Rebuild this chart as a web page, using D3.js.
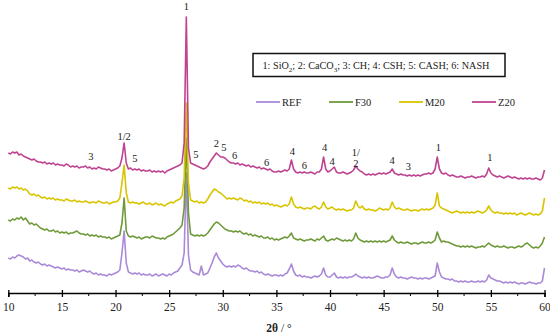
<!DOCTYPE html>
<html>
<head>
<meta charset="utf-8">
<script src="https://cdn.jsdelivr.net/npm/d3@7"></script>
<style>
  body { margin: 0; background: #fff; }
  svg { display: block; }
  text { font-family: "Liberation Serif", "Times New Roman", serif; fill: #222; }
</style>
</head>
<body>
<div id="chart-area"></div>
<script>
// 2theta grid: 10.0 .. 60.0 every 0.2 deg (251 points)
const twoTheta = d3.range(251).map(i => +(10 + i * 0.2).toFixed(1));

// intensities (a.u., already stacked), one row per degree
const refI = [
  35,34,36,35,37, 38,37,36,34,35, 32,33,31,30,31, 29,28,29,27,28, 27,26,25,26,25,
  24,25,23,24,23, 23,22,23,21,22, 23,22,21,22,20, 19,20,18,19,18, 18,17,19,18,19,
  20,21,23,40,62, 30,21,20,19,20, 19,20,18,19,18, 18,19,17,18,19, 17,18,19,18,17,
  19,18,20,21,22, 25,28,40,120,38, 23,21,20,19,18, 27,18,19,20,25, 30,36,40,35,32,
  29,27,26,27,26, 27,26,28,27,25, 24,25,23,22,22, 21,22,20,21,19, 18,19,18,17,18,
  18,17,18,17,19, 20,24,29,22,18, 17,18,16,17,16, 16,15,16,17,16, 17,19,25,18,16,
  16,18,20,16,15, 16,15,16,15,16, 16,17,19,17,16, 15,16,15,16,15, 15,16,17,16,15,
  15,16,16,18,25, 19,16,15,16,15, 15,14,15,16,15, 15,14,15,14,15, 15,14,15,16,17,
  30,21,16,15,14, 14,13,14,12,12, 11,12,11,12,11, 11,12,11,11,12, 11,12,11,13,18,
  15,14,13,12,12, 11,10,11,10,11, 10,11,10,9,10, 10,9,10,11,10, 10,9,10,10,12,
  25
];
const f30I = [
  73,72,74,73,75, 74,76,73,75,72, 69,70,68,69,67, 65,64,63,64,62, 62,63,61,62,60,
  61,60,61,59,60, 60,61,62,60,59, 59,58,59,57,58, 57,58,56,57,56, 56,55,56,54,55,
  56,57,58,70,95, 62,57,56,57,56, 55,56,54,55,56, 56,55,57,56,55, 55,54,55,54,56,
  57,58,59,61,63, 65,68,85,155,80, 59,58,57,58,57, 58,57,58,60,63, 66,69,71,70,68,
  66,64,63,62,62, 61,62,61,62,60, 59,60,58,59,57, 58,57,56,57,55, 55,56,54,55,53,
  54,53,54,55,56, 55,57,60,55,54, 53,54,53,52,53, 53,54,53,52,54, 53,55,57,53,52,
  53,54,53,55,54, 53,52,53,52,53, 52,54,60,55,53, 52,51,52,51,52, 51,52,51,52,51,
  52,51,52,53,57, 53,51,50,51,50, 50,51,50,49,50, 50,49,50,51,50, 50,51,50,51,53,
  61,55,51,52,51, 51,50,49,48,47, 47,46,47,46,47, 46,47,46,45,46, 46,47,46,48,50,
  48,47,46,47,46, 46,47,46,45,46, 46,45,46,47,46, 47,49,50,48,46, 45,46,45,47,50,
  56
];
const m20I = [
  105,104,106,105,106, 104,105,103,104,102, 99,98,99,97,98, 96,95,96,94,95, 94,95,93,94,93,
  93,92,94,93,92, 92,93,91,92,91, 91,92,91,90,91, 91,90,92,91,90, 90,91,89,90,91,
  91,92,95,110,128, 100,91,90,91,90, 90,89,90,91,89, 89,90,88,89,90, 88,89,88,87,89,
  90,91,90,92,93, 94,97,115,190,110, 93,92,91,92,90, 91,90,91,94,98, 101,104,103,101,100,
  98,96,94,95,94, 95,94,93,95,94, 92,93,91,92,90, 91,90,91,89,90, 89,90,88,89,87,
  88,87,86,87,88, 87,89,96,89,86, 85,86,85,84,85, 85,84,86,87,85, 84,86,91,86,84,
  85,86,84,83,84, 83,84,83,82,83, 83,85,92,87,85, 87,84,83,84,83, 83,82,83,85,84,
  83,84,83,85,91, 86,84,85,84,83, 83,84,83,82,83, 83,82,83,84,83, 84,83,84,85,88,
  100,87,85,84,83, 82,81,80,81,82, 81,80,81,80,81, 80,81,80,81,82, 81,80,81,83,87,
  83,81,80,81,80, 80,79,80,79,80, 79,80,78,79,80, 79,78,79,80,79, 78,79,78,79,82,
  95
];
const z20I = [
  140,139,141,140,141, 138,139,137,136,135, 134,133,134,132,131, 131,130,131,129,130, 129,130,128,129,128,
  128,127,129,128,126, 127,126,127,125,126, 126,127,125,126,124, 125,124,126,125,124, 124,123,124,122,123,
  124,125,127,135,150, 130,124,125,123,124, 123,124,122,123,122, 122,123,121,122,121, 122,121,122,120,122,
  123,124,125,126,127, 128,130,150,276,145, 130,129,128,127,126, 125,124,125,127,131, 134,137,140,138,136,
  136,135,133,131,130, 130,129,130,128,129, 128,127,128,126,127, 126,125,126,124,125, 124,123,124,122,121,
  121,122,121,122,123, 122,124,133,124,121, 120,121,120,121,120, 120,121,120,119,121, 121,124,136,124,121,
  122,124,126,121,120, 120,121,120,119,120, 121,123,127,124,122, 121,119,118,119,118, 119,118,119,120,119,
  120,119,120,121,124, 120,119,118,119,118, 118,117,118,117,118, 117,118,117,118,119, 119,120,119,120,124,
  136,124,120,119,120, 118,117,118,117,116, 116,117,116,115,116, 116,117,116,115,116, 116,117,116,119,125,
  120,118,117,116,117, 116,115,116,117,116, 115,116,115,114,115, 114,115,114,115,114, 114,115,114,113,115,
  123
];

const seriesNames = ["REF", "F30", "M20", "Z20"];
const seriesColors = ["#a98ad8", "#6f9a3a", "#d9c400", "#bf4390"];
const seriesData = [refI, f30I, m20I, z20I];

// phase marks: label, 2theta, intensity where the label sits
const peakLabels = [
  ["1", 26.6, 283], ["1/2", 20.8, 153], ["3", 17.7, 133], ["5", 21.8, 131],
  ["5", 27.5, 135], ["2", 29.4, 146], ["5", 30.1, 142], ["6", 31.1, 134],
  ["6", 34.1, 127], ["4", 36.5, 138], ["6", 37.6, 124], ["4", 39.5, 142],
  ["4", 40.2, 128], ["1/", 42.4, 137], ["2", 42.4, 126], ["4", 45.8, 129],
  ["3", 47.3, 123], ["1", 50.1, 142], ["1", 54.9, 132]
];
const xTicks = [10, 15, 20, 25, 30, 35, 40, 45, 50, 55, 60];

const width = 550, height = 333;

const svg = d3.select("#chart-area")
    .append("svg")
    .attr("width", width)
    .attr("height", height);

const x = d3.scaleLinear().domain([10, 60]).range([8.3, 544.5]);
const y = d3.scaleLinear().domain([0, 285]).range([293, 8]);

const line = d3.line()
    .x((d, i) => x(twoTheta[i]))
    .y(d => y(d));

seriesData.forEach((s, k) => {
    svg.append("path")
        .datum(s)
        .attr("fill", "none")
        .attr("stroke", seriesColors[k])
        .attr("stroke-width", 1.6)
        .attr("stroke-linejoin", "round")
        .attr("d", line);
});

// x axis
const axis = svg.append("g")
    .attr("transform", "translate(0,293)")
    .call(d3.axisBottom(x).tickValues(xTicks).tickSize(4).tickPadding(6).tickFormat(d3.format("d")));
axis.select(".domain").attr("stroke", "#000").attr("stroke-width", 1.5);
axis.selectAll(".tick line").attr("stroke", "#000").attr("stroke-width", 1.3).attr("y1", -3).attr("y2", 4);
axis.selectAll(".tick text")
    .style("font-family", '"Liberation Serif", serif')
    .style("font-size", "11.5px")
    .attr("fill", "#222");

// minor ticks
svg.selectAll("minorTicks")
    .data(xTicks.slice(0, -1).map(d => d + 2.5))
    .enter()
    .append("line")
    .attr("x1", d => x(d)).attr("x2", d => x(d))
    .attr("y1", 293).attr("y2", 296)
    .attr("stroke", "#000")
    .attr("stroke-width", 1);

const title = svg.append("text")
    .attr("x", 279)
    .attr("y", 332)
    .attr("text-anchor", "middle")
    .style("font-size", "11.5px");
title.append("tspan").attr("font-weight", "bold").text("2θ");
title.append("tspan").text(" / °");

// peak labels
svg.selectAll("peakLabels")
    .data(peakLabels)
    .enter()
    .append("text")
    .attr("x", d => x(d[1]))
    .attr("y", d => y(d[2]))
    .attr("text-anchor", "middle")
    .style("font-size", "10.5px")
    .text(d => d[0]);

// phase key box
svg.append("rect")
    .attr("x", 253).attr("y", 53.5)
    .attr("width", 252).attr("height", 23)
    .attr("fill", "#fff")
    .attr("stroke", "#111")
    .attr("stroke-width", 1.5);

const key = svg.append("text")
    .attr("x", 262.5)
    .attr("y", 69)
    .style("font-size", "10.2px");
const keyParts = [["1: SiO", ""], ["2", "sub"], ["; 2: CaCO", ""], ["3", "sub"], ["; 3: CH; 4: CSH; 5: CASH; 6: NASH", ""]];
keyParts.forEach(p => {
    const t = key.append("tspan").text(p[0]);
    if (p[1] === "sub") t.attr("dy", 3).style("font-size", "7px");
    else if (p[0] !== "1: SiO") t.attr("dy", -3);
});

// series legend
const legendX = [256, 329, 399, 472];
const legend = svg.selectAll("legendItems")
    .data(seriesNames)
    .enter()
    .append("g")
    .attr("transform", (d, i) => `translate(${legendX[i]},102)`);
legend.append("line")
    .attr("x1", 0).attr("x2", 24)
    .attr("stroke", (d, i) => seriesColors[i])
    .attr("stroke-width", 1.8);
legend.append("text")
    .attr("x", 26)
    .attr("y", 4)
    .style("font-size", "10.5px")
    .text(d => d);
</script>
</body>
</html>
